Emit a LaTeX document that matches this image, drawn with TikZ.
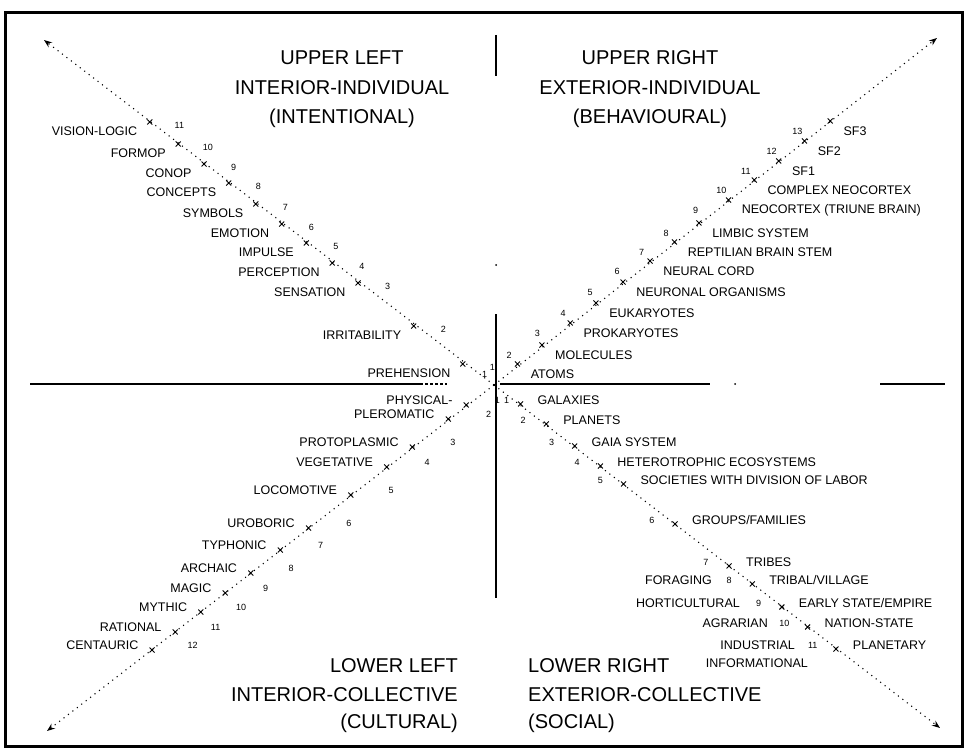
\documentclass[tikz,border=0pt]{standalone}
\usepackage{fontspec}
\setmainfont{Liberation Sans}
\usetikzlibrary{arrows.meta}
\newcommand\headf{\fontsize{20}{24}\selectfont}
\newcommand\labf{\fontsize{12.5}{15}\selectfont}
\newcommand\numf{\fontsize{9}{11}\selectfont}
\tikzset{
  head/.style={font=\headf,inner sep=0pt},
  lab/.style={font=\labf,inner sep=0pt},
  numlab/.style={font=\numf,inner sep=0pt},
  axisline/.style={line width=1.4pt},
  diag/.style={line width=1.1pt,dash pattern=on 1.1pt off 4.5pt,-{Stealth[length=8pt,width=6pt]}},
  tickx/.style={line width=0.9pt},
  frame/.style={line width=3pt}
}
\begin{document}
\begin{tikzpicture}[x=1pt,y=-1pt]
\useasboundingbox (0,0) rectangle (967,752);
\draw[frame] (5,13) rectangle (962,746);
% centre and tips
\coordinate (o) at (494,385);
\coordinate (ulT) at (44,40);
\coordinate (urT) at (937,38);
\coordinate (llT) at (47,731);
\coordinate (lrT) at (940,728);
\draw[diag] (o) -- (ulT);
\draw[diag] (o) -- (urT);
\draw[diag] (o) -- (llT);
\draw[diag] (o) -- (lrT);
% axes
\coordinate (vt1) at (496,35); \coordinate (vt2) at (496,76);
\coordinate (vm1) at (496,314); \coordinate (vm2) at (496,598);
\draw[axisline] (vt1) -- (vt2);
\draw[axisline] (vm1) -- (vm2);
\coordinate (hl1) at (30,384); \coordinate (hl2) at (420,384); \coordinate (hl3) at (447,384);
\coordinate (hr1) at (500,384); \coordinate (hr2) at (710,384);
\coordinate (hr3) at (880,384); \coordinate (hr4) at (945,384);
\draw[axisline] (hl1) -- (hl2);
\draw[line width=1.2pt,dash pattern=on 3pt off 2pt] (hl2) -- (hl3);
\draw[axisline] (hr1) -- (hr2);
\draw[axisline] (hr3) -- (hr4);
\fill (496,265) circle (1pt);
\fill (735,384) circle (1pt);
% headings
\node[head] (h1a) at (342,58) {UPPER LEFT};
\node[head] (h1b) at (342,88) {INTERIOR-INDIVIDUAL};
\node[head] (h1c) at (342,118) {(INTENTIONAL)};
\node[head] (h2a) at (650,58) {UPPER RIGHT};
\node[head] (h2b) at (650,88) {EXTERIOR-INDIVIDUAL};
\node[head] (h2c) at (650,118) {(BEHAVIOURAL)};
\node[head,anchor=east] (h3a) at (458,666) {LOWER LEFT};
\node[head,anchor=east] (h3b) at (458,695) {INTERIOR-COLLECTIVE};
\node[head,anchor=east] (h3c) at (458,723) {(CULTURAL)};
\node[head,anchor=west] (h4a) at (528,666) {LOWER RIGHT};
\node[head,anchor=west] (h4b) at (528,695) {EXTERIOR-COLLECTIVE};
\node[head,anchor=west] (h4c) at (528,723) {(SOCIAL)};
% upper left
\foreach \yy/\txt/\n in {131/VISION-LOGIC/11,153/FORMOP/10,173/CONOP/9,192/CONCEPTS/8,213/SYMBOLS/7,233/EMOTION/6,252/IMPULSE/5,272/PERCEPTION/4,292/SENSATION/3,335/IRRITABILITY/2,373/PREHENSION/1}{
  \pgfmathsetmacro\lx{490-(385-\yy)/0.773}
  \pgfmathsetmacro\mx{490-(385-\yy+9)/0.773}
  \node[lab,anchor=east] (ul\n) at (\lx-24,\yy) {\txt};
  \node[numlab] (uln\n) at (\lx+18,\yy-6) {\n};
  \draw[tickx] (\mx-2.5,\yy-11.5) -- (\mx+2.5,\yy-6.5) (\mx-2.5,\yy-6.5) -- (\mx+2.5,\yy-11.5);
}
% upper right
\foreach \yy/\txt/\n in {131/SF3/13,151/SF2/12,171/SF1/11,190/COMPLEX NEOCORTEX/10,210/{NEOCORTEX (TRIUNE BRAIN)}/9,233/LIMBIC SYSTEM/8,252/REPTILIAN BRAIN STEM/7,271/NEURAL CORD/6,292/NEURONAL ORGANISMS/5,313/EUKARYOTES/4,333/PROKARYOTES/3,355/MOLECULES/2,374/ATOMS/1}{
  \pgfmathsetmacro\lx{493+(383-\yy)/0.777}
  \pgfmathsetmacro\mx{493+(383-\yy+10)/0.777}
  \node[lab,anchor=west] (ur\n) at (\lx+26,\yy) {\txt};
  \node[numlab] (urn\n) at (\lx-20,\yy) {\n};
  \draw[tickx] (\mx-2.5,\yy-12.5) -- (\mx+2.5,\yy-7.5) (\mx-2.5,\yy-7.5) -- (\mx+2.5,\yy-12.5);
}
% lower left
\foreach \yy/\txt/\n in {400/PHYSICAL-/1,414/PLEROMATIC/2,442/PROTOPLASMIC/3,462/VEGETATIVE/4,490/LOCOMOTIVE/5,523/UROBORIC/6,545/TYPHONIC/7,568/ARCHAIC/8,588/MAGIC/9,607/MYTHIC/10,627/RATIONAL/11,645/CENTAURIC/12}{
  \pgfmathsetmacro\lx{488-(\yy-388)/0.78}
  \pgfmathsetmacro\mx{488-(\yy+5-388)/0.78}
  \node[lab,anchor=east] (ll\n) at (\lx-20,\yy) {\txt};
  \node[numlab] (lln\n) at (\lx+34,\yy) {\n};
  \draw[tickx] (\mx-2.5,\yy+2.5) -- (\mx+2.5,\yy+7.5) (\mx-2.5,\yy+7.5) -- (\mx+2.5,\yy+2.5);
}
% lower right
\foreach \yy/\txt/\n in {400/GALAXIES/1,420/PLANETS/2,442/GAIA SYSTEM/3,462/HETEROTROPHIC ECOSYSTEMS/4,480/SOCIETIES WITH DIVISION OF LABOR/5,520/{GROUPS/FAMILIES}/6,562/TRIBES/7,580/{TRIBAL/VILLAGE}/8,603/{EARLY STATE/EMPIRE}/9,623/NATION-STATE/10,645/PLANETARY/11}{
  \pgfmathsetmacro\lx{500+(\yy-388)/0.777}
  \pgfmathsetmacro\mx{500+(\yy+4-388)/0.777}
  \node[lab,anchor=west] (lr\n) at (\lx+22,\yy) {\txt};
  \node[numlab] (lrn\n) at (\lx-18,\yy) {\n};
  \draw[tickx] (\mx-2.5,\yy+1.5) -- (\mx+2.5,\yy+6.5) (\mx-2.5,\yy+6.5) -- (\mx+2.5,\yy+1.5);
}
\node[lab,anchor=east] (lf1) at (712,580) {FORAGING};
\node[lab,anchor=east] (lf2) at (740,603) {HORTICULTURAL};
\node[lab,anchor=east] (lf3) at (768,623) {AGRARIAN};
\node[lab,anchor=east] (lf4) at (795,645) {INDUSTRIAL};
\node[lab,anchor=east] (lf5) at (808,663) {INFORMATIONAL};
\end{tikzpicture}
\end{document}
